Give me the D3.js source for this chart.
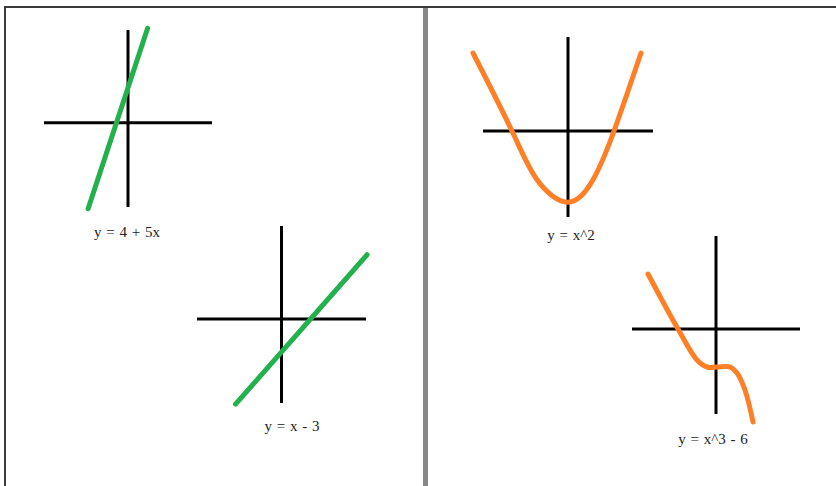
<!DOCTYPE html>
<html>
<head>
<meta charset="utf-8">
<script src="https://cdn.jsdelivr.net/npm/d3@7"></script>
<style>
  html, body { margin: 0; padding: 0; background: #fff; }
  svg { display: block; }
</style>
</head>
<body>
<div id="chart"></div>
<script>
// 各グラフのラベル
const labels = ['y = 4 + 5x', 'y = x - 3', 'y = x^2', 'y = x^3 - 6'];

// 軸の範囲（単位）
const xDomains = [[-6, 6], [-8, 8], [-4.25, 4.25], [-4.2, 4.2]];
const yDomains = [[-10, 11], [-7.3, 8.1], [-10.75, 11.75], [-8.5, 9.3]];

// 曲線の点（絵から読んだ値）
const line1 = [[-2.85, -10.2], [1.4, 11.2]];
const line2 = [[-4.35, -7.4], [8.1, 5.6]];
const parabola = [
    [-4.75, 9.75], [-2.8, 0], [-1.55, -6.1], [0, -8.9],
    [1.25, -6.1], [2.3, 0], [3.65, 9.75]
];
const cubic = [
    [-3.4, 5.5], [-1.9, 0], [-0.95, -3.1], [-0.45, -3.8], [0.05, -3.8],
    [0.7, -3.8], [1.05, -4.4], [1.45, -6.1], [1.85, -9.3]
];
const curves = [line1, line2, parabola, cubic];

// 配置とスタイル
const width = 836;
const height = 486;
const boxes = [
    { x: [44, 212], y: [207, 30], label: [127, 237], color: '#22b14c', curve: d3.curveLinear },
    { x: [197, 366], y: [403, 226], label: [292, 431], color: '#22b14c', curve: d3.curveLinear },
    { x: [483, 653], y: [217, 37], label: [571, 240], color: '#ff7f27', curve: d3.curveNatural },
    { x: [632, 800], y: [414, 236], label: [713, 444], color: '#ff7f27', curve: d3.curveCatmullRom.alpha(0.5) }
];

const svg = d3.select('#chart')
    .append('svg')
    .attr('width', width)
    .attr('height', height);

// 外枠
svg.append('line')
    .attr('x1', 4).attr('y1', 7).attr('x2', width).attr('y2', 7)
    .attr('stroke', '#3a3a3a').attr('stroke-width', 2);
svg.append('line')
    .attr('x1', 5).attr('y1', 6).attr('x2', 5).attr('y2', height)
    .attr('stroke', '#3a3a3a').attr('stroke-width', 2);

// 中央の区切り線
svg.append('line')
    .attr('x1', 425.5).attr('y1', 8).attr('x2', 425.5).attr('y2', height)
    .attr('stroke', '#888').attr('stroke-width', 5);

boxes.forEach((b, i) => {
    const x = d3.scaleLinear().domain(xDomains[i]).range(b.x);
    const y = d3.scaleLinear().domain(yDomains[i]).range(b.y);
    const g = svg.append('g');

    // 軸
    g.append('line')
        .attr('x1', x(xDomains[i][0])).attr('x2', x(xDomains[i][1]))
        .attr('y1', y(0)).attr('y2', y(0))
        .attr('stroke', '#000').attr('stroke-width', 3);
    g.append('line')
        .attr('x1', x(0)).attr('x2', x(0))
        .attr('y1', y(yDomains[i][0])).attr('y2', y(yDomains[i][1]))
        .attr('stroke', '#000').attr('stroke-width', 3);

    // 曲線
    const lineGen = d3.line()
        .x(d => x(d[0]))
        .y(d => y(d[1]))
        .curve(b.curve);
    g.append('path')
        .datum(curves[i])
        .attr('d', lineGen)
        .attr('fill', 'none')
        .attr('stroke', b.color)
        .attr('stroke-width', 5)
        .attr('stroke-linecap', 'round')
        .attr('stroke-linejoin', 'round');

    // ラベル
    g.append('text')
        .attr('x', b.label[0])
        .attr('y', b.label[1])
        .attr('text-anchor', 'middle')
        .style('font-family', '"Liberation Serif", "Times New Roman", serif')
        .style('font-size', '15px')
        .style('word-spacing', '1px')
        .style('fill', '#222')
        .text(labels[i]);
});
</script>
</body>
</html>
